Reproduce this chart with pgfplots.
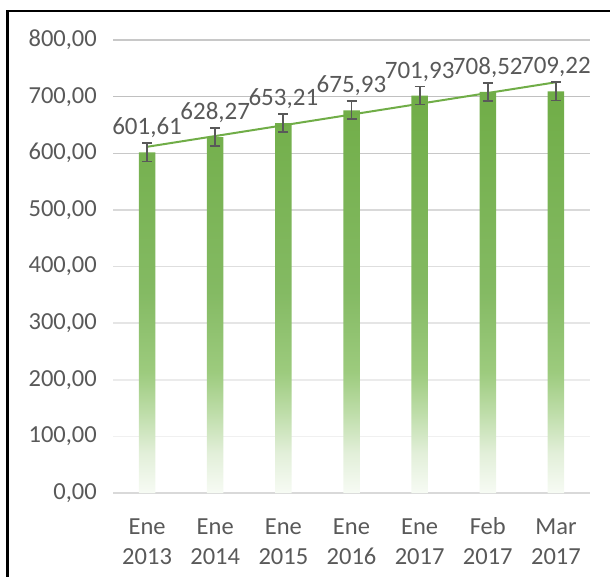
\documentclass[border=0pt]{standalone}
\usepackage{fontspec}
\setmainfont{Carlito}
\usepackage{pgfplots}
\pgfplotsset{compat=1.18}
\definecolor{txt}{HTML}{595959}
\definecolor{barg}{HTML}{70AD47}
\definecolor{errc}{HTML}{595959}
\definecolor{s0}{HTML}{F7FBF4}
\definecolor{s1}{HTML}{E2EFD9}
\definecolor{s2}{HTML}{BEDDA9}
\definecolor{s3}{HTML}{9DCB7E}
\definecolor{s4}{HTML}{84BA63}
\definecolor{s5}{HTML}{70AD47}
\definecolor{g800}{RGB}{200,200,200}
\definecolor{g700}{RGB}{192,192,192}
\definecolor{g500}{RGB}{217,217,217}
\definecolor{g400}{RGB}{222,222,222}
\definecolor{g300}{RGB}{229,229,229}
\definecolor{g200}{RGB}{235,235,235}
\definecolor{g100}{RGB}{240,240,240}
\pgfdeclareverticalshading{barfade}{100bp}{color(0bp)=(s0); color(25bp)=(s0); color(30bp)=(s1); color(35bp)=(s2); color(40bp)=(s3); color(50bp)=(s4); color(75bp)=(s5); color(100bp)=(s5)}
\newcommand{\xs}{\rule{0pt}{20pt}}
\begin{document}
\begin{tikzpicture}
\useasboundingbox (0pt,0pt) rectangle (610pt,576pt);
\draw[line width=2.2pt, black] (7.5pt,-20pt) -- (7.5pt,565pt) -- (640pt,565pt);
\begin{axis}[
  at={(113pt,83pt)}, anchor=south west,
  scale only axis, width=477pt, height=453pt,
  xmin=-0.5, xmax=6.5, ymin=0, ymax=800,
  ytick={0,100,...,800},
  xtick={0,...,6},
  xticklabels={\xs Ene\\2013,\xs Ene\\2014,\xs Ene\\2015,\xs Ene\\2016,\xs Ene\\2017,\xs Feb\\2017,\xs Mar\\2017},
  axis line style={draw=none},
  major tick length=0pt,
  ticklabel style={font=\fontsize{24.5}{30.5}\selectfont, text=txt},
  xticklabel style={align=center, anchor=north, inner sep=0pt, yshift=-21pt},
  yticklabel style={anchor=east, inner sep=0pt, xshift=-16pt},
  /pgf/number format/.cd, fixed, fixed zerofill, precision=2, use comma, 1000 sep={}, assume math mode=true,
  /pgfplots/.cd,
  clip=false,
]
\addplot[forget plot, draw=g800, line width=1.5pt] coordinates {(-0.5,800) (6.5,800)};
\addplot[forget plot, draw=g700, line width=1.5pt] coordinates {(-0.5,700) (6.5,700)};
\addplot[forget plot, draw=g800, line width=1.5pt] coordinates {(-0.5,600) (6.5,600)};
\addplot[forget plot, draw=g500, line width=1.5pt] coordinates {(-0.5,500) (6.5,500)};
\addplot[forget plot, draw=g400, line width=1.5pt] coordinates {(-0.5,400) (6.5,400)};
\addplot[forget plot, draw=g300, line width=1.5pt] coordinates {(-0.5,300) (6.5,300)};
\addplot[forget plot, draw=g200, line width=1.5pt] coordinates {(-0.5,200) (6.5,200)};
\addplot[forget plot, draw=g100, line width=1.5pt] coordinates {(-0.5,100) (6.5,100)};
\addplot[forget plot, draw=g500, line width=2pt] coordinates {(-0.5,0) (6.5,0)};
% bars
\addplot[ybar, bar width=16.5pt, draw=none, shade, shading=barfade,
  nodes near coords={\pgfmathprintnumber[fixed,fixed zerofill,precision=2,use comma,1000 sep={}]{\pgfplotspointmeta}},
  nodes near coords style={anchor=base, inner sep=0pt, yshift=17.5pt, font=\fontsize{25}{30}\selectfont, text=txt},
] coordinates {(0,601.61) (1,628.27) (2,653.21) (3,675.93) (4,701.93) (5,708.52) (6,709.22)};
% trend line
\addplot[barg, line width=2pt, no marks] coordinates {(0,611.38) (6,725.39)};
% error bars
\addplot[draw=none, no marks,
  error bars/.cd, y dir=both, y fixed=16,
  error bar style={color=errc, line width=1.8pt},
  error mark options={rotate=90, mark size=5pt, line width=1.8pt, color=errc},
] coordinates {(0,601.61) (1,628.27) (2,653.21) (3,675.93) (4,701.93) (5,708.52) (6,709.22)};
\end{axis}
\end{tikzpicture}
\end{document}
